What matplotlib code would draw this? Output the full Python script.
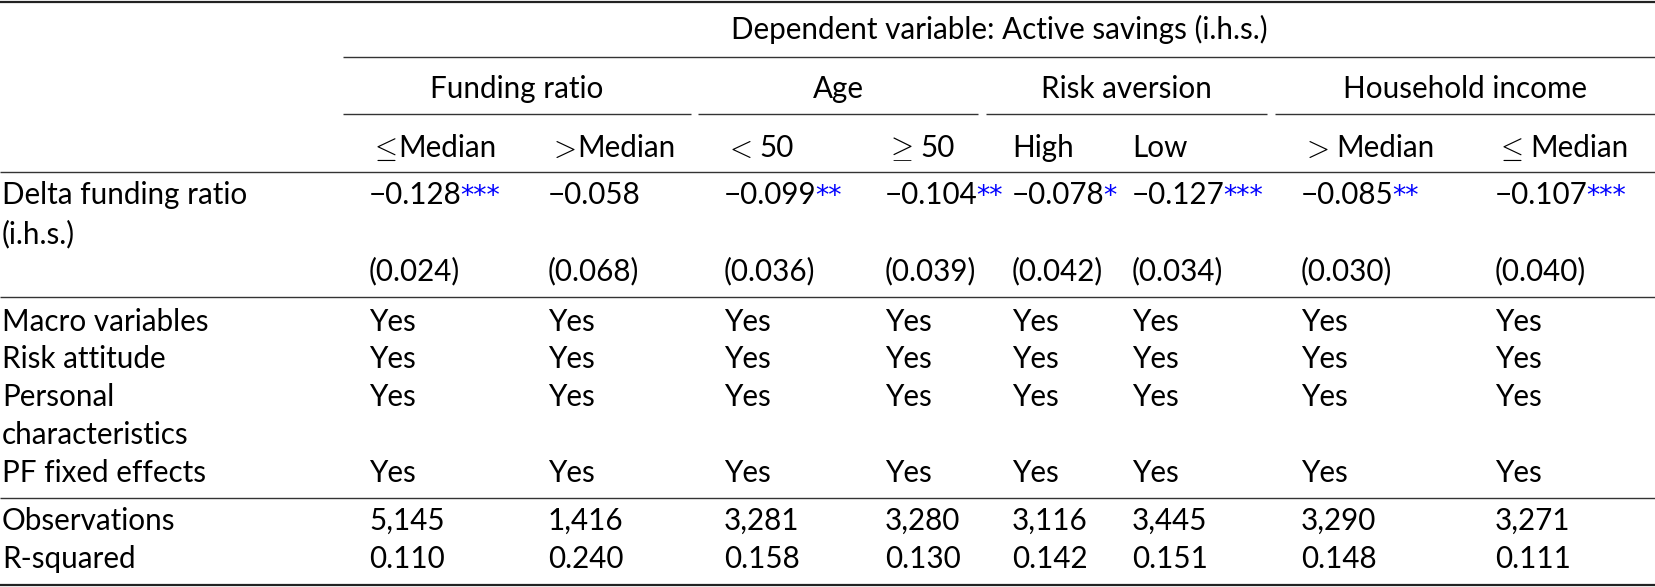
import matplotlib
matplotlib.use("Agg")
import matplotlib.pyplot as plt

plt.rcParams["mathtext.fontset"] = "cm"

# ---- data ----
dep_title = "Dependent variable: Active savings (i.h.s.)"
groups = ["Funding ratio", "Age", "Risk aversion", "Household income"]
subheaders = ["\u2264Median", ">Median", "< 50", "\u2265 50", "High", "Low",
              "> Median", "\u2264 Median"]
coef_vals = [-0.128, -0.058, -0.099, -0.104, -0.078, -0.127, -0.085, -0.107]
coef_stars = ["***", "", "**", "**", "*", "***", "**", "***"]
se_vals = [0.024, 0.068, 0.036, 0.039, 0.042, 0.034, 0.030, 0.040]
control_labels = ["Macro variables", "Risk attitude", "Personal\ncharacteristics", "PF fixed effects"]
control_vals = ["Yes"] * 8
observations = [5145, 1416, 3281, 3280, 3116, 3445, 3290, 3271]
r_squared = [0.110, 0.240, 0.158, 0.130, 0.142, 0.151, 0.148, 0.111]

# ---- layout (pixel coords) ----
W, H = 1655, 587
fig = plt.figure(figsize=(W / 100, H / 100), dpi=100)
ax = fig.add_axes([0, 0, 1, 1])
ax.set_xlim(0, W)
ax.set_ylim(H, 0)
ax.axis("off")

FAM = ["Lato", "DejaVu Sans"]
FS = 21.3
col_x = [369, 548, 724, 885, 1012, 1132, 1301, 1495]
group_span = [(343, 691), (698, 978), (986, 1267), (1275, 1655)]
lx = 2
MATH_SYM = {"\u2264": r"$\leq$", "\u2265": r"$\geq$", "<": r"$<$", ">": r"$>$"}

fig.canvas.draw()
renderer = fig.canvas.get_renderer()

def txt(x, y, s, ha="left", **kw):
    return ax.text(x, y, s, ha=ha, va="baseline", fontsize=FS, family=FAM, color="black", **kw)

def right_edge(t):
    bb = t.get_window_extent(renderer=renderer)
    return ax.transData.inverted().transform((bb.x1, bb.y0))[0]

def rule(y, x0=0, x1=W, lw=1.0, c="#333333"):
    ax.plot([x0, x1], [y, y], color=c, lw=lw, solid_capstyle="butt")

# rules
rule(1.5, lw=1.6, c="#222222")
rule(57, 343, W)
for a, b in group_span:
    rule(114, a, b)
rule(172)
rule(297)
rule(498)
rule(585, lw=1.6, c="#222222")

# header
txt((343 + W) / 2, 39, dep_title, ha="center")
for g, (a, b) in zip(groups, group_span):
    txt((a + b) / 2, 98, g, ha="center")
for s, x in zip(subheaders, col_x):
    if s[0] in MATH_SYM:
        t = txt(x, 157, MATH_SYM[s[0]])
        rest = s[1:]
        xe = right_edge(t)
        gap = 8 if rest.startswith(" ") else 2
        txt(xe + gap, 157, rest.strip())
    else:
        txt(x, 157, s)

# coefficient row
txt(lx, 204, "Delta funding ratio")
txt(lx, 243, "(i.h.s.)")
for v, st, x in zip(coef_vals, coef_stars, col_x):
    t = txt(x, 204, f"{v:.3f}".replace("-", "\u2212"))
    if st:
        xe = right_edge(t)
        ax.text(xe - 1.5, 204, st, ha="left", va="baseline", fontsize=FS * 0.9,
                family="DejaVu Sans", color="#0000ff")
for v, x in zip(se_vals, col_x):
    txt(x, 280, f"({v:.3f})")

# controls
ctrl_y = [331, 368, 406, 482]
for lab, y in zip(control_labels, ctrl_y):
    lines = lab.split("\n")
    for i, ln in enumerate(lines):
        txt(lx, y + i * 37.5, ln)
    for v, x in zip(control_vals, col_x):
        txt(x, y, v)

# stats
txt(lx, 530, "Observations")
txt(lx, 568, "R-squared")
for o, r, x in zip(observations, r_squared, col_x):
    txt(x, 530, f"{o:,}")
    txt(x, 568, f"{r:.3f}")

fig.savefig("out.png", dpi=100)
